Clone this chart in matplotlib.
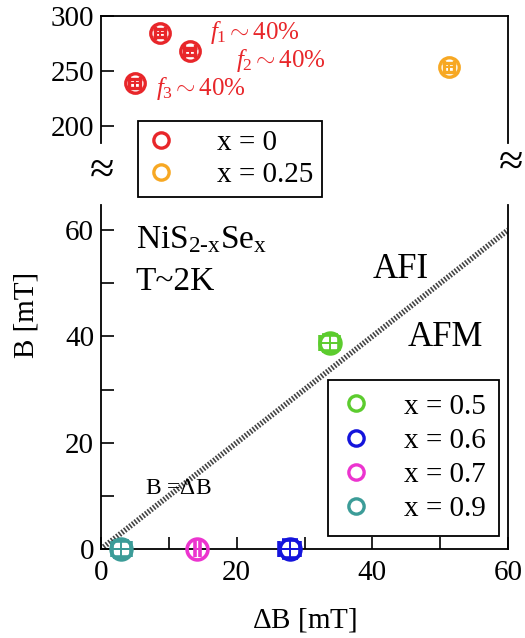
import numpy as np
import matplotlib
matplotlib.use("Agg")
import matplotlib.pyplot as plt
from matplotlib.lines import Line2D

plt.rcParams['font.family'] = ['Liberation Serif', 'DejaVu Serif']
plt.rcParams['mathtext.fontset'] = 'custom'
plt.rcParams['mathtext.rm'] = 'Liberation Serif'
plt.rcParams['mathtext.it'] = 'Liberation Serif:italic'

# ── data ──
# x = 0 (three Fourier components), shown on the upper (broken) panel
x0_dB = [8.7, 13.1, 5.0]
x0_B = [284.5, 268.0, 239.0]
x0_xerr = [0.8, 0.8, 0.8]
x0_yerr = [4.0, 3.0, 4.0]
x0_labels = [r"$f_1\sim\mathrm{40\%}$", r"$f_2\sim\mathrm{40\%}$", r"$f_3\sim\mathrm{40\%}$"]

# x = 0.25, upper panel
x25_dB = [51.3]
x25_B = [253.5]
x25_xerr = [0.7]
x25_yerr = [4.0]

# lower panel
low_x = ["0.5", "0.6", "0.7", "0.9"]
low_dB = [33.7, 27.8, 14.2, 3.0]
low_B = [38.7, 0.0, 0.0, 0.0]
low_xerr = [1.4, 1.6, 0.35, 1.4]
low_yerr = [1.5, 1.7, 0.0, 1.5]

red = '#e8262a'
orange = '#f7a823'
low_colors = ['#5ccc2e', '#1414dc', '#ec34cf', '#3c9c98']

W, H = 525, 638
fig = plt.figure(figsize=(W / 100, H / 100), dpi=100)

def box(l, t, r, b):
    return [l / W, 1 - b / H, (r - l) / W, (b - t) / H]

ax_top = fig.add_axes(box(101, 16, 508, 143))
ax_low = fig.add_axes(box(101, 205, 508, 549))

tick_fs = 21

# ── upper panel ──
ax_top.set_xlim(0, 60)
ax_top.set_ylim(300 - 127 / 1.1, 300)
ax_top.spines['bottom'].set_visible(False)
ax_top.set_xticks([])
ax_top.set_yticks([200, 250, 300])
ax_top.tick_params(axis='y', direction='in', length=9, width=1.2, labelsize=tick_fs, pad=5)
for s in ax_top.spines.values():
    s.set_linewidth(1.3)

for xx, yy, ex, ey in zip(x0_dB, x0_B, x0_xerr, x0_yerr):
    ax_top.errorbar(xx, yy, xerr=ex, yerr=ey, fmt='o', ms=14, mfc='none', mec=red, mew=2.4,
                    ecolor=red, elinewidth=1.4, capsize=5, capthick=1.4, clip_on=False)
for xx, yy, ex, ey in zip(x25_dB, x25_B, x25_xerr, x25_yerr):
    ax_top.errorbar(xx, yy, xerr=ex, yerr=ey, fmt='o', ms=14, mfc='none', mec=orange, mew=2.4,
                    ecolor=orange, elinewidth=1.4, capsize=5, capthick=1.4, clip_on=False)

# f labels placed next to the red points
f_pos = [(255, 33), (281, 60), (201, 89)]
for lab, (px, py) in zip(x0_labels, f_pos):
    fig.text(px / W, 1 - py / H, lab, color=red, fontsize=18, ha='center', va='center')

# ── lower panel ──
ax_low.set_xlim(0, 60)
ax_low.set_ylim(0, 60 * 344 / 319)
ax_low.spines['top'].set_visible(False)
for s in ax_low.spines.values():
    s.set_linewidth(1.3)
ax_low.set_xticks([0, 20, 40, 60])
ax_low.set_xticks([10, 30, 50], minor=True)
ax_low.set_yticks([0, 20, 40, 60])
ax_low.set_yticks([10, 30, 50], minor=True)
ax_low.tick_params(which='both', direction='in', length=9, width=1.2, labelsize=tick_fs)
ax_low.tick_params(axis='x', which='both', pad=8)
ax_low.tick_params(axis='y', which='both', pad=5)

diag = np.array([0, 60])
ax_low.plot(diag, diag, color='#444444', lw=4, linestyle=(0, (0.3, 0.3)), zorder=1)

for xx, yy, ex, ey, c in zip(low_dB, low_B, low_xerr, low_yerr, low_colors):
    ax_low.errorbar(xx, yy, xerr=ex, yerr=ey if ey > 0 else None, fmt='o', ms=15, mfc='none',
                    mec=c, mew=2.6, ecolor=c, elinewidth=1.4, capsize=6, capthick=1.4,
                    clip_on=False, zorder=3)

ax_low.set_xlabel(r"$\Delta$B [mT]", fontsize=21, labelpad=14)
fig.text(27 / W, 1 - 315 / H, "B [mT]", rotation=90, fontsize=21, ha='center', va='center')

ax_low.text(0.085, 0.898, r"NiS$_{2\text{-}\mathrm{x}}$Se$_\mathrm{x}$", transform=ax_low.transAxes,
            fontsize=24, ha='left', va='center')
ax_low.text(0.085, 0.776, "T~2K", transform=ax_low.transAxes, fontsize=24, ha='left', va='center')
fig.text(401 / W, 1 - 270 / H, "AFI", fontsize=25, ha='center', va='center')
fig.text(445 / W, 1 - 338 / H, "AFM", fontsize=25, ha='center', va='center')
fig.text(178 / W, 1 - 489 / H, r"B =$\Delta$B", fontsize=17, ha='center', va='center')

# break marks
fig.text(102 / W, 1 - 172 / H, "≈", fontsize=32, ha='center', va='center')
fig.text(511 / W, 1 - 164 / H, "≈", fontsize=32, ha='center', va='center')

# ── legends ──
def handle(c, ms=11):
    return Line2D([], [], ls='none', marker='o', ms=ms, mfc='none', mec=c, mew=2.4)

leg1 = fig.legend([handle(red), handle(orange)], ["x = 0", "x = 0.25"],
                  loc='upper left', bbox_to_anchor=(138 / W, 1 - 121 / H), borderaxespad=0,
                  fontsize=21, frameon=True, fancybox=False, edgecolor='black', framealpha=1,
                  handlelength=1.0, handletextpad=1.4, borderpad=0.3, labelspacing=0.2)
leg1.get_frame().set_linewidth(1.3)

leg2 = fig.legend([handle(c) for c in low_colors], [f"x = {v}" for v in low_x],
                  loc='upper left', bbox_to_anchor=(328 / W, 1 - 380 / H), borderaxespad=0,
                  fontsize=21, frameon=True, fancybox=False, edgecolor='black', framealpha=1,
                  handlelength=1.0, handletextpad=1.15, borderpad=0.45, labelspacing=0.27)
leg2.get_frame().set_linewidth(1.3)

fig.savefig("out.png", dpi=100)
